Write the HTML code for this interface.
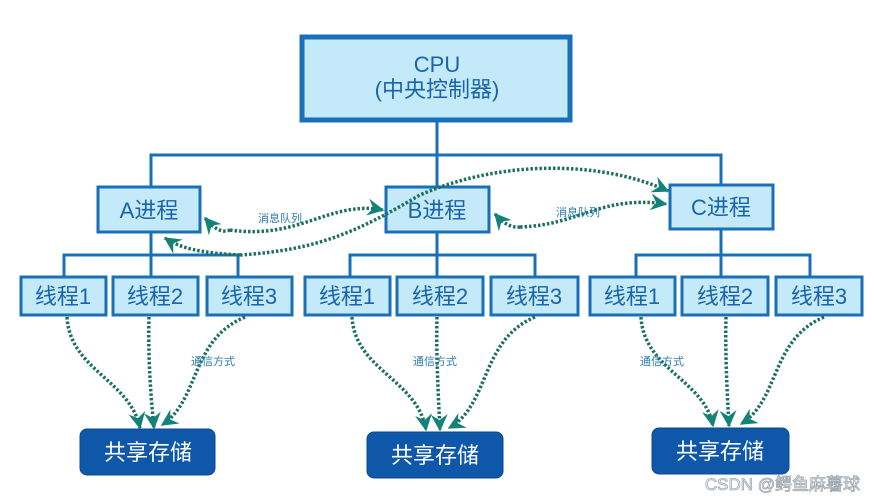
<!DOCTYPE html>
<html><head><meta charset="utf-8"><style>
html,body{margin:0;padding:0;background:#fff;}
svg{display:block;}
text{font-family:"Liberation Sans","Noto Sans CJK SC",sans-serif;}
</style></head><body>
<svg width="874" height="500" viewBox="0 0 874 500" xmlns="http://www.w3.org/2000/svg">
<defs>
<marker id="ah" viewBox="0 0 12 12" refX="11" refY="6" markerWidth="17" markerHeight="17" markerUnits="userSpaceOnUse" orient="auto">
<path d="M0,0 L12,6 L0,12 L4,6 Z" fill="#138278"/>
</marker>
</defs>
<g stroke="#1a70b8" stroke-width="3" fill="none">
<line x1="437" y1="120" x2="437" y2="187"/>
<polyline points="151,187 151,155 721,155 721,185"/>
<line x1="151" y1="232" x2="151" y2="278"/>
<polyline points="64,278 64,255 238,255 238,278"/>
<line x1="437" y1="232" x2="437" y2="278"/>
<polyline points="350,278 350,255 535,255 535,278"/>
<line x1="721" y1="229" x2="721" y2="278"/>
<polyline points="636,278 636,255 810,255 810,278"/>
</g>
<rect x="302" y="37" width="268" height="83" fill="#c4e9f9" stroke="#1a70b8" stroke-width="5"/>
<text x="437" y="72" font-size="22" fill="#1a64a8" text-anchor="middle">CPU</text>
<text x="437" y="97" font-size="22" fill="#1a64a8" text-anchor="middle">(中央控制器)</text>
<g fill="#c4e9f9" stroke="#1a70b8" stroke-width="3">
<rect x="98" y="187" width="102" height="45"/>
<rect x="386" y="187" width="103" height="45"/>
<rect x="670" y="185" width="103" height="44"/>
</g>
<g font-size="22" fill="#1a64a8" text-anchor="middle">
<text x="149" y="218">A进程</text>
<text x="437" y="218">B进程</text>
<text x="721" y="215">C进程</text>
</g>
<g fill="#c4e9f9" stroke="#1a70b8" stroke-width="3">
<rect x="21" y="277" width="85" height="38"/>
<rect x="113" y="277" width="85" height="38"/>
<rect x="207" y="277" width="85" height="38"/>
<rect x="305" y="277" width="85" height="38"/>
<rect x="397" y="277" width="86" height="38"/>
<rect x="491" y="277" width="87" height="38"/>
<rect x="590" y="277" width="85" height="38"/>
<rect x="682" y="277" width="86" height="38"/>
<rect x="776" y="277" width="86" height="38"/>
</g>
<g font-size="22" fill="#1a64a8" text-anchor="middle">
<text x="63" y="304">线程1</text>
<text x="155" y="304">线程2</text>
<text x="249" y="304">线程3</text>
<text x="347" y="304">线程1</text>
<text x="440" y="304">线程2</text>
<text x="534" y="304">线程3</text>
<text x="632" y="304">线程1</text>
<text x="725" y="304">线程2</text>
<text x="819" y="304">线程3</text>
</g>
<g stroke="#1d7060" stroke-width="3.5" stroke-dasharray="2.5 2" fill="none" marker-end="url(#ah)">
<path d="M230,230 C220,234 212,226 205,218"/>
<path d="M230,230 C300,240 330,200 383,210"/>
<path d="M520,227 C510,228 502,222 495,214"/>
<path d="M520,227 C580,225 600,195 666,204"/>
<path d="M240,255 C200,253 180,248 165,238"/>
<path d="M240,255 C320,250 360,230 420,195 C500,160 600,160 668,191"/>
<path d="M67,317 C70,370 130,380 140,428"/>
<path d="M149,317 C148,350 150,390 154,428"/>
<path d="M245,317 C190,340 200,400 162,425"/>
<path d="M352,317 C355,370 418,380 426,430"/>
<path d="M437,317 C436,350 438,390 440,430"/>
<path d="M535,317 C480,340 490,405 449,428"/>
<path d="M641,317 C644,370 705,380 713,426"/>
<path d="M726,317 C725,350 727,390 729,426"/>
<path d="M824,317 C770,340 780,400 741,424"/>
</g>
<g font-size="11" fill="#2a7cb0" text-anchor="middle">
<text x="280" y="222">消息队列</text>
<text x="578" y="216">消息队列</text>
<text x="213" y="365">通信方式</text>
<text x="435" y="365">通信方式</text>
<text x="662" y="365">通信方式</text>
</g>
<g fill="#0f57a8" stroke="#0a4a90" stroke-width="1">
<rect x="80" y="429" width="135" height="46" rx="7"/>
<rect x="367" y="432" width="136" height="46" rx="7"/>
<rect x="652" y="428" width="137" height="46" rx="7"/>
</g>
<g font-size="22" fill="#ffffff" text-anchor="middle">
<text x="148" y="460">共享存储</text>
<text x="435" y="463">共享存储</text>
<text x="720" y="459">共享存储</text>
</g>
<text x="860" y="490" font-size="17" fill="#ffffff" stroke="#9aa4ae" stroke-width="0.8" text-anchor="end">CSDN @鳄鱼麻薯球</text>
</svg>
</body></html>
